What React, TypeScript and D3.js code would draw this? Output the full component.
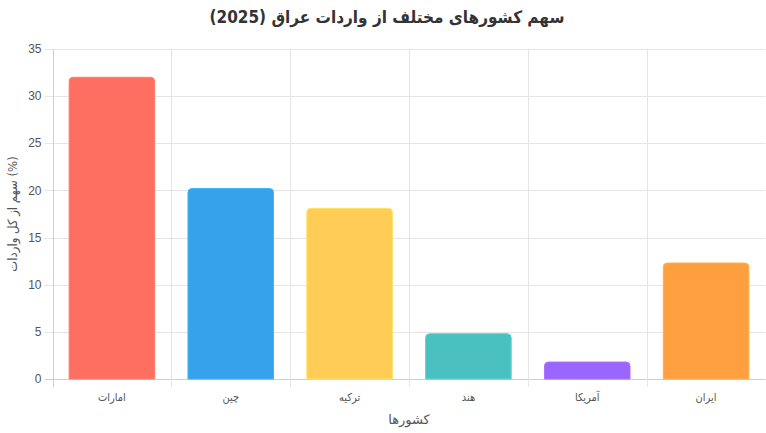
import React, { useRef, useEffect } from "react";
import * as d3 from "d3";

const countries = ["امارات", "چین", "ترکیه", "هند", "آمریکا", "ایران"];
const shares = [32, 20.2, 18.1, 4.8, 1.8, 12.3];
const colors = ["#FF6F61", "#36A2EB", "#FFCD56", "#4BC0C0", "#9966FF", "#FF9F40"];
const yTicks = [0, 5, 10, 15, 20, 25, 30, 35];

const App = () => {
  const ref = useRef<SVGSVGElement>(null);

  useEffect(() => {
    const width = 766;
    const height = 433;
    const left = 52.5;
    const right = 765.5;
    const top = 49;
    const bottom = 379;
    const font = "'Liberation Sans', Arial, 'DejaVu Sans', sans-serif";

    const svg = d3.select(ref.current);
    svg.selectAll("*").remove();
    svg.attr("width", width).attr("height", height);

    const x = d3.scaleBand().domain(countries).range([left, right]);
    const y = d3.scaleLinear().domain([0, 35]).range([bottom, top]);

    // horizontal grid + left tick marks
    svg
      .append("g")
      .selectAll("line")
      .data(yTicks)
      .enter()
      .append("line")
      .attr("x1", left - 8)
      .attr("x2", right)
      .attr("y1", (d) => Math.round(y(d)) + 0.5)
      .attr("y2", (d) => Math.round(y(d)) + 0.5)
      .attr("stroke", (d) => (d === 0 ? "#cfcfcf" : "#e5e5e5"));

    // vertical grid at category edges
    const edges = countries.map((c) => x(c) as number).concat([right]);
    svg
      .append("g")
      .selectAll("line")
      .data(edges)
      .enter()
      .append("line")
      .attr("x1", (d) => Math.round(d) + 0.5)
      .attr("x2", (d) => Math.round(d) + 0.5)
      .attr("y1", top)
      .attr("y2", bottom + 8)
      .attr("stroke", (d, i) => (i === 0 ? "#cfcfcf" : "#e5e5e5"));

    // y tick labels
    svg
      .append("g")
      .selectAll("text")
      .data(yTicks)
      .enter()
      .append("text")
      .attr("x", left - 11)
      .attr("y", (d) => y(d))
      .attr("dy", "0.35em")
      .attr("text-anchor", "end")
      .attr("font-family", font)
      .attr("font-size", 12)
      .attr("fill", "#555")
      .text((d) => d);

    // bars with rounded tops
    const bw = x.bandwidth() * 0.72;
    const r = 4;
    svg
      .append("g")
      .selectAll("path")
      .data(shares)
      .enter()
      .append("path")
      .attr("d", (d, i) => {
        const cx = (x(countries[i]) as number) + x.bandwidth() / 2;
        const x0 = cx - bw / 2;
        const x1 = cx + bw / 2;
        const yt = y(d);
        return `M${x0},${bottom}L${x0},${yt + r}Q${x0},${yt} ${x0 + r},${yt}L${x1 - r},${yt}Q${x1},${yt} ${x1},${yt + r}L${x1},${bottom}Z`;
      })
      .attr("fill", (d, i) => colors[i])
      .attr("stroke", (d, i) => d3.color(colors[i])!.brighter(0.3).formatHex())
      .attr("stroke-width", 1);

    // x tick labels
    svg
      .append("g")
      .selectAll("text")
      .data(countries)
      .enter()
      .append("text")
      .attr("x", (d) => (x(d) as number) + x.bandwidth() / 2)
      .attr("y", 401)
      .attr("text-anchor", "middle")
      .attr("font-family", "'DejaVu Sans Condensed', 'DejaVu Sans', sans-serif")
      .attr("font-size", 11)
      .attr("fill", "#555")
      .text((d) => d);

    // axis titles
    svg
      .append("text")
      .attr("x", (left + right) / 2)
      .attr("y", 424)
      .attr("text-anchor", "middle")
      .attr("font-family", font)
      .attr("font-size", 13)
      .attr("fill", "#555")
      .text("کشورها");

    svg
      .append("text")
      .attr("transform", `translate(17, ${(top + bottom) / 2}) rotate(-90)`)
      .attr("text-anchor", "middle")
      .attr("font-family", "'DejaVu Sans Condensed', 'DejaVu Sans', sans-serif")
      .attr("font-size", 13)
      .attr("fill", "#555")
      .text("سهم از کل واردات (%)");

    // title
    svg
      .append("text")
      .attr("x", 387)
      .attr("y", 23)
      .attr("text-anchor", "middle")
      .attr("font-family", "'DejaVu Sans Condensed', 'DejaVu Sans', sans-serif")
      .attr("font-size", 17)
      .attr("font-weight", "bold")
      .attr("fill", "#333")
      .text("سهم کشورهای مختلف از واردات عراق (2025)");
  }, []);

  return (
    <div style={{ position: "absolute", left: 0, top: 0 }}>
      <svg ref={ref} style={{ display: "block" }} />
    </div>
  );
};

export default App;
